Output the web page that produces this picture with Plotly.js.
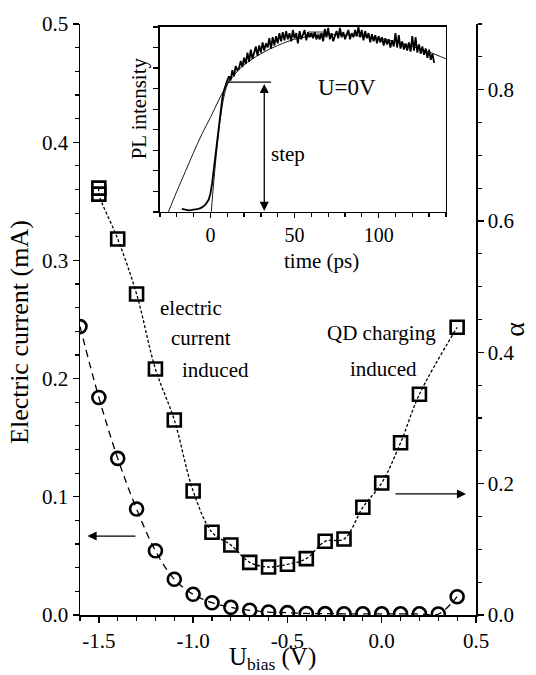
<!DOCTYPE html>
<html>
<head>
<meta charset="utf-8">
<script src="https://cdn.plot.ly/plotly-3.0.1.min.js"></script>
<style>html,body{margin:0;padding:0;background:#fff;}#chart{width:536px;height:675px;}</style>
</head>
<body>
<div id="chart"></div>
<script>
// Main plot: electric current (left axis, circles)
const biasCurrent = [-1.6,-1.5,-1.4,-1.3,-1.2,-1.1,-1.0,-0.9,-0.8,-0.7,-0.6,-0.5,-0.4,-0.3,-0.2,-0.1,0.0,0.1,0.2,0.3,0.4];
const current = [0.244,0.184,0.1325,0.0897,0.0544,0.0302,0.0175,0.0104,0.0065,0.004,0.0025,0.002,0.0013,0.0012,0.001,0.001,0.001,0.001,0.001,0.0008,0.0155];
// Main plot: alpha (right axis, squares)
const biasAlpha = [-1.5,-1.5,-1.4,-1.3,-1.2,-1.1,-1.0,-0.9,-0.8,-0.7,-0.6,-0.5,-0.4,-0.3,-0.2,-0.1,0.0,0.1,0.2,0.4];
const alpha = [0.650,0.641,0.5726,0.4889,0.3747,0.297,0.1889,0.126,0.1066,0.0802,0.0731,0.0772,0.0858,0.1122,0.1157,0.164,0.201,0.2624,0.3361,0.4381];
// Axis tick labels
const xTickVals = [-1.5,-1.0,-0.5,0.0,0.5];
const xTickText = ["-1.5","-1.0","-0.5","0.0","0.5"];
const yTickVals = [0,0.1,0.2,0.3,0.4,0.5];
const yTickText = ["0.0","0.1","0.2","0.3","0.4","0.5"];
const y2TickVals = [0,0.2,0.4,0.6,0.8];
const y2TickText = ["0.0","0.2","0.4","0.6","0.8"];
// Inset: PL transient at U=0V
const plTime = [-17,-15,-13,-11,-9,-7,-5,-3,-1,0,1,2,3,4,5,6,7,8,9,10,11,12,13,14,15,16,17,18,19,20,21,22,23,24,25,26,27,28,29,30,31,32,33,34,35,36,37,38,39,40,41,42,43,44,45,46,47,48,49,50,51,52,53,54,55,56,57,58,59,60,61,62,63,64,65,66,67,68,69,70,71,72,73,74,75,76,77,78,79,80,81,82,83,84,85,86,87,88,89,90,91,92,93,94,95,96,97,98,99,100,101,102,103,104,105,106,107,108,109,110,111,112,113,114,115,116,117,118,119,120,121,122,123,124,125,126,127,128,129,130,131,132,133];
const plData = [0.15,0.1,0.08,0.1,0.12,0.15,0.22,0.35,0.6,0.9,1.4,2.1,2.9,3.7,4.4,5.0,5.5,5.9,6.2,6.4,6.6,6.4,6.9,6.6,7.1,6.9,7.0,7.35,7.05,7.5,7.2,7.75,7.3,7.9,7.45,7.7,8.05,7.6,8.1,7.75,8.25,7.85,8.2,8.0,8.45,7.95,8.5,8.1,8.55,8.2,8.7,8.3,8.75,8.35,8.8,8.4,8.7,8.3,8.85,8.45,8.7,8.2,8.8,8.4,8.6,8.85,8.35,8.75,8.5,8.7,8.45,8.75,8.4,8.6,8.4,8.7,8.3,8.9,8.5,8.95,8.4,8.7,8.3,8.55,8.8,8.45,8.95,8.5,8.75,8.4,8.65,8.85,8.4,8.7,8.5,8.85,8.55,9.0,8.5,8.85,8.35,8.8,8.45,8.7,8.25,8.65,8.3,8.6,8.2,8.55,8.25,8.5,8.1,8.45,8.15,8.4,8.0,8.35,8.05,8.7,8.0,8.6,7.95,8.3,7.9,8.2,7.85,8.25,7.8,8.55,7.85,8.5,7.75,8.15,7.7,8.05,7.65,7.95,7.5,7.9,7.4,7.7,7.25];
const fitTime = [-25,-20,-15,-10,-5,0,5,10,15,20,30,40,50,60,70,80,90,100,110,120,130,140];
const fitValue = [0,1.0,1.95,2.9,3.8,4.6,5.45,6.2,6.75,7.15,7.7,8.1,8.4,8.55,8.62,8.62,8.55,8.45,8.28,8.05,7.78,7.45];
const riseTime = [0.5,2,4,6,8,10,12];
const riseValue = [0,1.5,3.2,4.6,5.6,6.2,6.6];
const insetXTickVals = [0,50,100];
const insetXTickText = ["0","50","100"];

const FONT = "'Liberation Serif', 'DejaVu Serif', serif";

const traces = [
  {x: biasCurrent, y: current, xaxis:'x', yaxis:'y', mode:'lines+markers',
   line:{color:'#000', width:1.3, dash:'7px,5px', shape:'spline'},
   marker:{symbol:'circle-open', size:13, color:'#000', line:{width:2.6, color:'#000'}}},
  {x: biasAlpha, y: alpha, xaxis:'x', yaxis:'y2', mode:'lines+markers',
   line:{color:'#000', width:1.3, dash:'3px,2px', shape:'spline'},
   marker:{symbol:'square-open', size:13, color:'#000', line:{width:2.6, color:'#000'}}},
  {x: fitTime, y: fitValue, xaxis:'x2', yaxis:'y3', mode:'lines',
   line:{color:'#000', width:0.9, shape:'spline'}},
  {x: riseTime, y: riseValue, xaxis:'x2', yaxis:'y3', mode:'lines',
   line:{color:'#000', width:0.9, shape:'spline'}},
  {x: plTime, y: plData, xaxis:'x2', yaxis:'y3', mode:'lines',
   line:{color:'#000', width:1.8}}
];

const axCommon = {showgrid:false, zeroline:false, showline:true, linecolor:'#000', linewidth:1.5,
  ticks:'outside', tickcolor:'#000', tickwidth:1.3, color:'#000'};

const txt = (s, size) => ({size:size, family:FONT, color:'#000'});

const layout = {
  width:536, height:675,
  margin:{l:80, r:60, t:24, b:60},
  paper_bgcolor:'#fff', plot_bgcolor:'#fff',
  showlegend:false,
  font:{family:FONT, color:'#000', size:21},
  xaxis: Object.assign({}, axCommon, {
    range:[-1.6,0.5], tickmode:'array', tickvals:xTickVals, ticktext:xTickText, ticklen:6,
    minor:{dtick:0.1, tick0:0, ticklen:4, ticks:'outside', tickcolor:'#000', tickwidth:1.2},
    tickfont:txt(0,21)
  }),
  yaxis: Object.assign({}, axCommon, {
    range:[0,0.5], tickmode:'array', tickvals:yTickVals, ticktext:yTickText, ticklen:6,
    minor:{dtick:0.02, tick0:0, ticklen:4, ticks:'outside', tickcolor:'#000', tickwidth:1.2},
    tickfont:txt(0,21)
  }),
  yaxis2: Object.assign({}, axCommon, {
    overlaying:'y', side:'right', anchor:'x',
    range:[0,0.9], tickmode:'array', tickvals:y2TickVals, ticktext:y2TickText, ticklen:6,
    minor:{dtick:0.05, tick0:0, ticklen:4, ticks:'outside', tickcolor:'#000', tickwidth:1.2},
    tickfont:txt(0,21)
  }),
  xaxis2: Object.assign({}, axCommon, {
    domain:[0.202,0.924], anchor:'y3', mirror:true,
    range:[-30,140], tickmode:'array', tickvals:insetXTickVals, ticktext:insetXTickText, ticklen:5,
    minor:{dtick:10, tick0:0, ticklen:4, ticks:'outside', tickcolor:'#000', tickwidth:1.2},
    tickfont:txt(0,20)
  }),
  yaxis3: Object.assign({}, axCommon, {
    domain:[0.682,0.995], anchor:'x2', mirror:true,
    range:[0,9], dtick:1, ticklen:5, showticklabels:false
  }),
  shapes:[
    {type:'line', xref:'x2', yref:'y3', x0:10.5, x1:36, y0:6.32, y1:6.32, line:{color:'#000', width:1.3}},
    {type:'rect', xref:'x2', yref:'y3', x0:58, x1:69, y0:8.55, y1:8.8, fillcolor:'#999', line:{width:0}, layer:'below'}
  ],
  annotations:[
    // axis titles
    {xref:'paper', yref:'paper', x:0.485, y:-0.0735, xanchor:'center', yanchor:'middle', showarrow:false,
     text:'U<sub>bias</sub> (V)', font:txt(0,25)},
    {xref:'paper', yref:'paper', x:-0.1515, y:0.479, xanchor:'center', yanchor:'middle', showarrow:false, textangle:-90,
     text:'Electric current (mA)', font:txt(0,26)},
    {xref:'paper', yref:'paper', x:1.098, y:0.484, xanchor:'center', yanchor:'middle', showarrow:false, textangle:-90,
     text:'α', font:txt(0,28)},
    {xref:'paper', yref:'paper', x:0.6086, y:0.599, xanchor:'center', yanchor:'middle', showarrow:false,
     text:'time (ps)', font:txt(0,21)},
    {xref:'paper', yref:'paper', x:0.150, y:0.858, xanchor:'center', yanchor:'middle', showarrow:false, textangle:-90,
     text:'PL intensity', font:txt(0,21)},
    // step double arrow
    {xref:'x2', yref:'y3', x:32, y:0.05, ax:32, ay:6.3, axref:'x2', ayref:'y3', text:'', showarrow:true,
     arrowhead:2, arrowside:'end+start', arrowsize:1.4, arrowwidth:1.3, arrowcolor:'#000'},
    {xref:'x2', yref:'y3', x:46, y:2.8, text:'step', showarrow:false, font:txt(0,21)},
    {xref:'x2', yref:'y3', x:81, y:6.05, text:'U=0V', showarrow:false, font:txt(0,23)},
    // main plot labels
    {xref:'x', yref:'y', x:-1.186, y:0.2597, xanchor:'left', text:'electric', showarrow:false, font:txt(0,21)},
    {xref:'x', yref:'y', x:-1.128, y:0.2343, xanchor:'left', text:'current', showarrow:false, font:txt(0,21)},
    {xref:'x', yref:'y', x:-1.070, y:0.2073, xanchor:'left', text:'induced', showarrow:false, font:txt(0,21)},
    {xref:'x', yref:'y', x:0.0, y:0.2386, text:'QD charging', showarrow:false, font:txt(0,21)},
    {xref:'x', yref:'y', x:0.012, y:0.208, text:'induced', showarrow:false, font:txt(0,21)},
    // direction arrows
    {xref:'x', yref:'y', x:-1.56, y:0.0668, ax:-1.298, ay:0.0668, axref:'x', ayref:'y', text:'', showarrow:true,
     arrowhead:2, arrowsize:1.4, arrowwidth:1.3, arrowcolor:'#000'},
    {xref:'x', yref:'y', x:0.447, y:0.1024, ax:0.065, ay:0.1024, axref:'x', ayref:'y', text:'', showarrow:true,
     arrowhead:2, arrowsize:1.4, arrowwidth:1.3, arrowcolor:'#000'}
  ]
};

Plotly.newPlot('chart', traces, layout, {displayModeBar:false, staticPlot:true});
</script>
</body>
</html>
